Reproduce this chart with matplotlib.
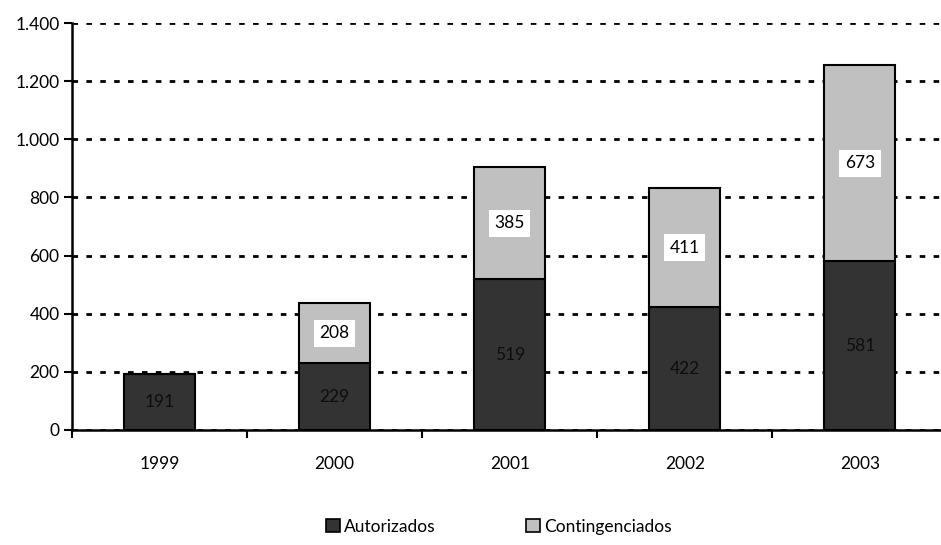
import matplotlib.pyplot as plt
from matplotlib.patches import Patch

# Data
years = ['1999', '2000', '2001', '2002', '2003']
autorizados = [191, 229, 519, 422, 581]
contingenciados = [0, 208, 385, 411, 673]

DARK = '#333333'
LIGHT = '#c0c0c0'

plt.rcParams['font.family'] = ['Lato', 'DejaVu Sans']
FS = 12.5

fig = plt.figure(figsize=(9.41, 5.45), dpi=100)
# axes runs past the right edge of the figure, like the original
ax = fig.add_axes([72/941, 115/545, 875.5/941, 407/545])

x = list(range(len(years)))
ax.bar(x, autorizados, width=0.405, color=DARK, edgecolor='black', linewidth=1.5, zorder=3)
ax.bar(x, contingenciados, width=0.405, bottom=autorizados, color=LIGHT,
       edgecolor='black', linewidth=1.5, zorder=3)

for i in x:
    ax.text(i, autorizados[i]/2, str(autorizados[i]), ha='center', va='center',
            fontsize=FS, color='#0d0d0d', zorder=4)
    if contingenciados[i] > 0:
        ax.text(i, autorizados[i] + contingenciados[i]/2, str(contingenciados[i]),
                ha='center', va='center', fontsize=FS, color='black', zorder=4,
                bbox=dict(facecolor='white', edgecolor='none', pad=4))

ax.set_xlim(-0.5, len(years) - 0.5)
ax.set_ylim(0, 1400)
ax.set_yticks(range(0, 1401, 200))
ax.set_yticklabels(['0', '200', '400', '600', '800', '1.000', '1.200', '1.400'], fontsize=FS)
ax.set_xticks(x)
ax.set_xticklabels(years, fontsize=FS)
ax.tick_params(axis='x', length=0, pad=19)
ax.set_xticks([i - 0.5 for i in range(len(years) + 1)], minor=True)
ax.tick_params(axis='x', which='minor', length=6, width=1.5, direction='out')
ax.tick_params(axis='y', length=6, width=1.5, direction='out', pad=3)

ax.yaxis.grid(True, color='black', linestyle=(0, (2, 3)), linewidth=2, zorder=0)
ax.set_axisbelow(True)
for s in ['top', 'right']:
    ax.spines[s].set_visible(False)
for s in ['left', 'bottom']:
    ax.spines[s].set_linewidth(1.8)

handles = [Patch(facecolor=DARK, edgecolor='black', linewidth=1.2),
           Patch(facecolor=LIGHT, edgecolor='black', linewidth=1.2)]
fig.legend(handles, ['Autorizados', 'Contingenciados'], loc='lower center',
           bbox_to_anchor=(0.53, -0.01), ncol=2, frameon=False, fontsize=FS,
           handlelength=0.8, handleheight=0.8, handletextpad=0.25, columnspacing=5.2)

fig.savefig('out.png', dpi=100)
